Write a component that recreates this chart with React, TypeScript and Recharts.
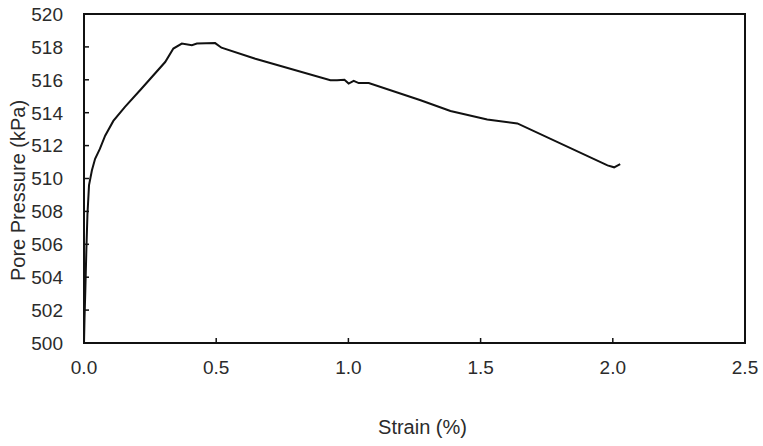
import { LineChart, Line, XAxis, YAxis, ReferenceArea, Label } from 'recharts'

// strain (%) vs pore pressure (kPa)
const strain = [
  0, 0.002, 0.005, 0.009, 0.013, 0.019, 0.03, 0.042, 0.06, 0.08, 0.111, 0.155,
  0.218, 0.307, 0.338, 0.37, 0.408, 0.427, 0.496, 0.52, 0.648, 0.932, 0.957,
  0.985, 1.001, 1.02, 1.039, 1.077, 1.273, 1.386, 1.525, 1.639, 1.98, 2.005, 2.028
]
const porePressure = [
  500, 501.5, 503.2, 505.7, 507.8, 509.6, 510.5, 511.2, 511.8, 512.6, 513.5,
  514.35, 515.47, 517.08, 517.9, 518.2, 518.1, 518.2, 518.23, 517.95, 517.28,
  515.97, 515.97, 516.0, 515.77, 515.93, 515.8, 515.8, 514.76, 514.1, 513.59,
  513.35, 510.8, 510.68, 510.88
]
const xTicks = [0, 0.5, 1, 1.5, 2, 2.5]
const yTicks = [500, 502, 504, 506, 508, 510, 512, 514, 516, 518, 520]

const data = strain.map((s, i) => ({ strain: s, pressure: porePressure[i] }))

const font = 'Liberation Sans, Arial, sans-serif'
const textColor = '#2b2b2b'
const axisColor = '#111'
const tickLen = 5
const xGap = 18
const yGap = 21

// ticks point into the plot, so the mark and the label are drawn together
const XTick = (props: any) => {
  const { x, y, payload } = props
  const axisY = y - xGap
  return (
    <g>
      <line x1={x} x2={x} y1={axisY} y2={axisY - tickLen} stroke={axisColor} strokeWidth={1.5} />
      <text x={x} y={y} dy="0.71em" textAnchor="middle" fontSize={19} fontFamily={font} fill={textColor}>
        {Number(payload.value).toFixed(1)}
      </text>
    </g>
  )
}

const YTick = (props: any) => {
  const { x, y, payload } = props
  const axisX = x + yGap
  return (
    <g>
      <line x1={axisX} x2={axisX + tickLen} y1={y} y2={y} stroke={axisColor} strokeWidth={1.5} />
      <text x={x} y={y} dy="0.36em" textAnchor="end" fontSize={19} fontFamily={font} fill={textColor}>
        {payload.value}
      </text>
    </g>
  )
}

const YTitle = (props: any) => {
  const vb = props.viewBox || { x: 0, y: 14, width: 84, height: 329 }
  const cx = vb.x + 18
  const cy = vb.y + vb.height / 2 + 12
  return (
    <text
      x={cx}
      y={cy}
      transform={`rotate(-90, ${cx}, ${cy})`}
      textAnchor="middle"
      dominantBaseline="central"
      fontSize={20}
      fontFamily={font}
      fill={textColor}
    >
      Pore Pressure (kPa)
    </text>
  )
}

const XTitle = (props: any) => {
  const vb = props.viewBox || { x: 84, y: 343, width: 661, height: 103 }
  return (
    <text
      x={vb.x + vb.width / 2 + 8}
      y={vb.y + 84}
      textAnchor="middle"
      dominantBaseline="central"
      fontSize={20}
      fontFamily={font}
      fill={textColor}
    >
      Strain (%)
    </text>
  )
}

export default function App() {
  return (
    <div style={{ position: 'absolute', left: 0, top: 0, width: 763, height: 446, background: '#fff' }}>
      <LineChart
        width={763}
        height={446}
        data={data}
        margin={{ top: 14, right: 18, bottom: 0, left: 0 }}
      >
        <XAxis
          dataKey="strain"
          type="number"
          domain={[0, 2.5]}
          ticks={xTicks}
          height={103}
          tickSize={0}
          tickMargin={xGap}
          axisLine={{ stroke: axisColor, strokeWidth: 2 }}
          tickLine={false}
          tick={<XTick />}
          interval={0}
          allowDataOverflow
        >
          <Label content={<XTitle />} />
        </XAxis>
        <YAxis
          type="number"
          domain={[500, 520]}
          ticks={yTicks}
          width={84}
          tickSize={0}
          tickMargin={yGap}
          axisLine={{ stroke: axisColor, strokeWidth: 2 }}
          tickLine={false}
          tick={<YTick />}
          interval={0}
          allowDataOverflow
        >
          <Label content={<YTitle />} />
        </YAxis>
        <ReferenceArea
          x1={0}
          x2={2.5}
          y1={500}
          y2={520}
          fill="none"
          stroke={axisColor}
          strokeWidth={2}
          ifOverflow="visible"
        />
        <Line
          type="linear"
          dataKey="pressure"
          stroke="#111"
          strokeWidth={2}
          dot={false}
          isAnimationActive={false}
        />
      </LineChart>
    </div>
  )
}
